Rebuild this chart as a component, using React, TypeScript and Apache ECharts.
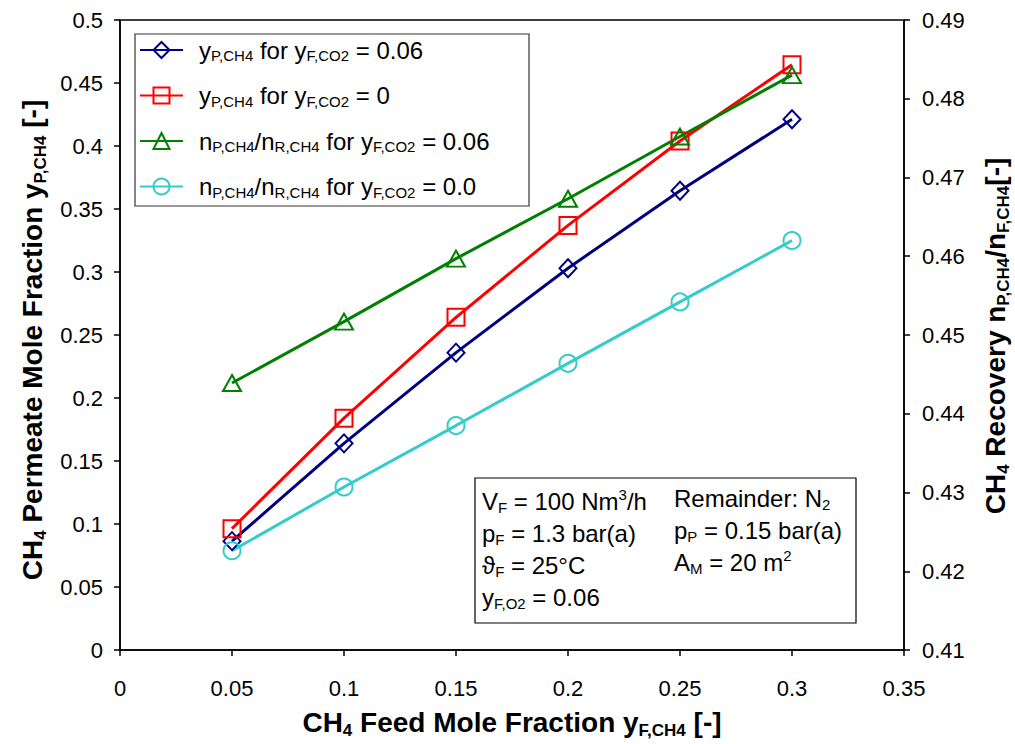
import React, { useEffect, useRef } from "react";
import * as echarts from "echarts";

// ---------- data ----------
const feedFractions = [0.05, 0.1, 0.15, 0.2, 0.25, 0.3];
const permCO2_006 = [0.0864, 0.164, 0.236, 0.303, 0.3645, 0.4212];
const permCO2_0 = [0.0963, 0.184, 0.264, 0.337, 0.404, 0.4645];
const recCO2_006 = [0.4439, 0.4517, 0.4597, 0.4673, 0.4752, 0.483];
const recCO2_0 = [0.4226, 0.4307, 0.4385, 0.4464, 0.4542, 0.462];

const xTickLabels = ["0", "0.05", "0.1", "0.15", "0.2", "0.25", "0.3", "0.35"];
const yLeftTickLabels = ["0", "0.05", "0.1", "0.15", "0.2", "0.25", "0.3", "0.35", "0.4", "0.45", "0.5"];
const yRightTickLabels = ["0.41", "0.42", "0.43", "0.44", "0.45", "0.46", "0.47", "0.48", "0.49"];

const seriesNames = ["permCO2_006", "permCO2_0", "recCO2_006", "recCO2_0"];
const legendLabels = [
  "{g| }{n|y}{s|P,CH4}{n| for y}{s|F,CO2}{n| = 0.06}",
  "{g| }{n|y}{s|P,CH4}{n| for y}{s|F,CO2}{n| = 0}",
  "{g| }{n|n}{s|P,CH4}{n|/n}{s|R,CH4}{n| for y}{s|F,CO2}{n| = 0.06}",
  "{g| }{n|n}{s|P,CH4}{n|/n}{s|R,CH4}{n| for y}{s|F,CO2}{n| = 0.0}",
];

const FONT = "'Liberation Sans', Arial, sans-serif";

export default function App() {
  const ref = useRef<HTMLDivElement>(null);

  useEffect(() => {
    document.body.style.margin = "0";
    if (!ref.current) return;
    const chart = echarts.init(ref.current, undefined, { renderer: "svg" });

    const pair = (arr: number[]) => feedFractions.map((x, i) => [x, arr[i]]);

    const mkSeries = (
      name: string,
      data: number[],
      color: string,
      symbol: string,
      size: number | number[],
      yAxisIndex: number
    ) => ({
      name,
      type: "line",
      yAxisIndex,
      data: pair(data),
      symbol,
      symbolSize: size,
      showSymbol: true,
      lineStyle: { color, width: 3 },
      itemStyle: { color: "rgba(255,255,255,0)", borderColor: color, borderWidth: 2 },
      z: 3,
    });

    const titleRich = {
      b: { fontFamily: FONT, fontWeight: "bold", fontSize: 28, lineHeight: 34, fill: "#000", color: "#000" },
      bs: { fontFamily: FONT, fontWeight: "bold", fontSize: 17, lineHeight: 17, verticalAlign: "bottom", fill: "#000", color: "#000" },
    };
    const boxRich = {
      n: { fontFamily: FONT, fontSize: 24, lineHeight: 28, fill: "#000", color: "#000" },
      s: { fontFamily: FONT, fontSize: 15, lineHeight: 14, verticalAlign: "bottom", fill: "#000", color: "#000" },
      p: { fontFamily: FONT, fontSize: 15, lineHeight: 14, verticalAlign: "top", fill: "#000", color: "#000" },
    };

    const txt = (x: number, y: number, text: string, rich: any, rotation = 0, align = "left") => ({
      type: "text",
      x,
      y,
      rotation,
      style: {
        text,
        rich,
        align,
        textAlign: align,
        verticalAlign: "middle",
        textVerticalAlign: "middle",
        fill: "#000",
      },
      z: 10,
    });

    const option = {
      animation: false,
      backgroundColor: "#fff",
      grid: {
        left: 120,
        right: 111,
        top: 20,
        bottom: 94,
        show: true,
        borderColor: "#000",
        borderWidth: 1.5,
        backgroundColor: "transparent",
      },
      xAxis: {
        type: "value",
        min: 0,
        max: 0.35,
        interval: 0.05,
        axisLine: { show: true, onZero: false, lineStyle: { color: "#000", width: 1.5 } },
        axisTick: { show: true, length: 6, lineStyle: { color: "#000", width: 1.5 } },
        splitLine: { show: false },
        axisLabel: {
          margin: 27,
          fontFamily: FONT,
          fontSize: 22,
          color: "#000",
          formatter: (_v: number, i: number) => xTickLabels[i],
        },
      },
      yAxis: [
        {
          type: "value",
          position: "left",
          min: 0,
          max: 0.5,
          interval: 0.05,
          axisLine: { show: true, onZero: false, lineStyle: { color: "#000", width: 1.5 } },
          axisTick: { show: true, length: 6, lineStyle: { color: "#000", width: 1.5 } },
          splitLine: { show: false },
          axisLabel: {
            margin: 17,
            fontFamily: FONT,
            fontSize: 22,
            color: "#000",
            formatter: (_v: number, i: number) => yLeftTickLabels[i],
          },
        },
        {
          type: "value",
          position: "right",
          min: 0.41,
          max: 0.49,
          interval: 0.01,
          axisLine: { show: true, onZero: false, lineStyle: { color: "#000", width: 1.5 } },
          axisTick: { show: true, length: 6, lineStyle: { color: "#000", width: 1.5 } },
          splitLine: { show: false },
          axisLabel: {
            margin: 18,
            fontFamily: FONT,
            fontSize: 22,
            color: "#000",
            formatter: (_v: number, i: number) => yRightTickLabels[i],
          },
        },
      ],
      legend: {
        orient: "vertical",
        left: 135,
        top: 34,
        padding: [4, 4, 4, 4],
        itemWidth: 43,
        itemHeight: 20,
        itemGap: 20.5,
        selectedMode: false,
        data: seriesNames,
        formatter: (name: string) => legendLabels[seriesNames.indexOf(name)],
        textStyle: {
          fontFamily: FONT,
          fontSize: 24,
          color: "#000",
          rich: {
            g: { width: 11, fontSize: 24, lineHeight: 26 },
            n: { fontFamily: FONT, fontSize: 24, lineHeight: 26, color: "#000" },
            s: { fontFamily: FONT, fontSize: 15, lineHeight: 13, verticalAlign: "bottom", color: "#000" },
          },
        },
      },
      series: [
        mkSeries(seriesNames[0], permCO2_006, "#000080", "diamond", [17, 18], 0),
        mkSeries(seriesNames[1], permCO2_0, "#FF0000", "rect", 17, 0),
        mkSeries(seriesNames[2], recCO2_006, "#008000", "triangle", [18, 16], 1),
        mkSeries(seriesNames[3], recCO2_0, "#33CCCC", "circle", 17, 1),
      ],
      graphic: [
        {
          type: "rect",
          shape: { x: 135, y: 34, width: 394, height: 172 },
          style: { fill: "none", stroke: "#333", lineWidth: 1.2 },
          z: 1,
        },
        {
          type: "rect",
          shape: { x: 475, y: 478, width: 381, height: 145 },
          style: { fill: "#fff", stroke: "#000", lineWidth: 1.2 },
          z: 9,
        },
        txt(482, 501, "{n|V}{s|F}{n| = 100 Nm}{p|3}{n|/h}", boxRich),
        txt(482, 533, "{n|p}{s|F}{n| = 1.3 bar(a)}", boxRich),
        txt(482, 565, "{n|ϑ}{s|F}{n| = 25°C}", boxRich),
        txt(482, 597, "{n|y}{s|F,O2}{n| = 0.06}", boxRich),
        txt(674, 498, "{n|Remainder: N}{s|2}", boxRich),
        txt(674, 530, "{n|p}{s|P}{n| = 0.15 bar(a)}", boxRich),
        txt(674, 562, "{n|A}{s|M}{n| = 20 m}{p|2}", boxRich),
        txt(512, 722, "{b|CH}{bs|4}{b| Feed Mole Fraction y}{bs|F,CH4}{b| [-]}", titleRich, 0, "center"),
        txt(32, 340, "{b|CH}{bs|4}{b| Permeate Mole Fraction y}{bs|P,CH4}{b| [-]}", titleRich, Math.PI / 2, "center"),
        txt(995, 336, "{b|CH}{bs|4}{b| Recovery n}{bs|P,CH4}{b|/n}{bs|F,CH4}{b|[-]}", titleRich, Math.PI / 2, "center"),
      ],
    };

    chart.setOption(option as any);
    return () => chart.dispose();
  }, []);

  return <div ref={ref} style={{ width: 1015, height: 744 }} />;
}
